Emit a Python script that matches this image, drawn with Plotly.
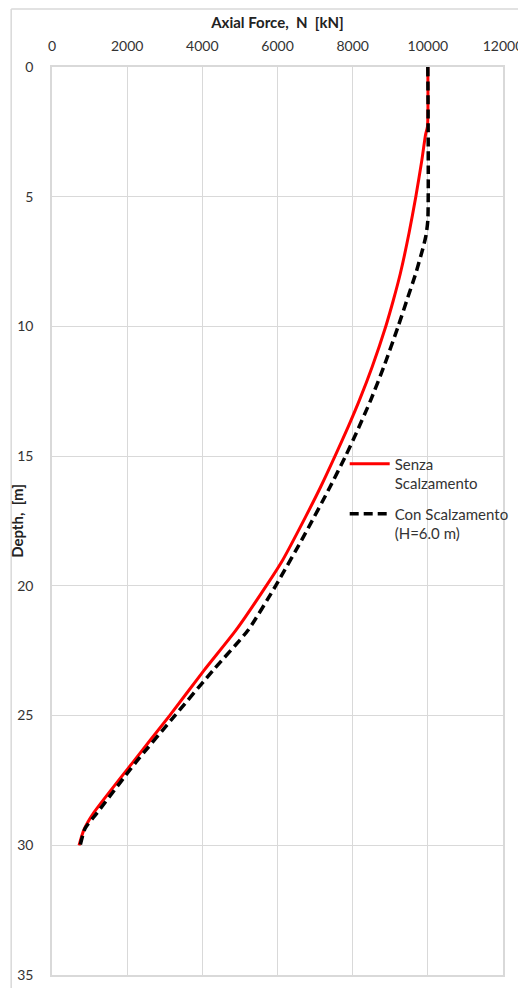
import plotly.graph_objects as go

# Senza Scalzamento (red solid)
depth_senza = [0, 2.3, 2.6, 3.6, 5, 6.4, 7.95, 9, 10, 11.55, 12.84, 13.87, 15, 16.18,
               17.33, 19, 20, 21.7, 23.25, 25, 26.84, 28.77, 29.4, 30]
N_senza = [10000, 9990, 9940, 9840, 9680, 9500, 9270, 9080, 8880, 8520, 8180, 7880, 7530, 7150,
           6750, 6140, 5700, 4900, 4050, 3130, 2130, 1100, 850, 720]

# Con Scalzamento (H=6.0 m) (black dashed)
depth_con = [0, 5.9, 6.5, 6.93, 7.95, 9, 10, 11.55, 12.84, 14.1, 15, 16.18, 17.98, 20, 21.7,
             23.25, 25, 26.84, 28.77, 29.35, 30]
N_con = [10000, 10000, 9950, 9880, 9680, 9440, 9210, 8830, 8480, 8100, 7810, 7400, 6740, 5950, 5220,
         4290, 3270, 2210, 1190, 880, 750]

x_ticks = [0, 2000, 4000, 6000, 8000, 10000, 12000]
x_ticktext = ["0", "2000", "4000", "6000", "8000", "10000", "12000"]
y_ticks = [0, 5, 10, 15, 20, 25, 30, 35]
y_ticktext = ["0", "5", "10", "15", "20", "25", "30", "35"]

FONT = "Lato"
GRID = "#d9d9d9"

fig = go.Figure()
fig.add_trace(go.Scatter(
    x=N_senza, y=depth_senza, mode="lines", name="Senza<br>Scalzamento", legendgroup="a",
    line=dict(color="#ff0000", width=3, shape="spline", smoothing=0.6)))
fig.add_trace(go.Scatter(
    x=N_con, y=depth_con, mode="lines", name="Con Scalzamento<br>(H=6.0 m)", legendgroup="b",
    line=dict(color="#000000", width=3.5, dash="9px,5px", shape="spline", smoothing=0.6)))

fig.update_layout(
    width=518, height=980,
    margin=dict(l=44, r=21, t=59, b=13),
    paper_bgcolor="white", plot_bgcolor="white",
    font=dict(family=FONT, size=14, color="#333333"),
    showlegend=True,
    legend=dict(x=0.649, y=0.581, xanchor="left", yanchor="top", valign="top",
                traceorder="grouped",
                bgcolor="rgba(0,0,0,0)", font=dict(family=FONT, size=15, color="#333333"),
                tracegroupgap=8, itemwidth=40),
    xaxis=dict(side="top", range=[0, 12000], tickvals=x_ticks, ticktext=x_ticktext,
               showgrid=True, gridcolor=GRID, gridwidth=1, automargin=False,
               showline=True, linecolor=GRID, linewidth=1.5, mirror=True,
               zeroline=False, ticks="", ticklabelstandoff=9,
               tickfont=dict(family=FONT, size=14, color="#333333"),
               title=dict(text="<b>Axial Force,  N  [kN]</b>", standoff=4,
                          font=dict(family=FONT, size=15, color="#222222"))),
    yaxis=dict(range=[35, 0], tickvals=y_ticks, ticktext=y_ticktext,
               showgrid=True, gridcolor=GRID, gridwidth=1, automargin=False,
               showline=True, linecolor=GRID, linewidth=1.5, mirror=True,
               zeroline=False, ticks="", ticklabelstandoff=14,
               tickfont=dict(family=FONT, size=14, color="#333333"),
               title=dict(text="<b>Depth,  [m]</b>", standoff=6,
                          font=dict(family=FONT, size=15, color="#222222"))),
    shapes=[
        dict(type="line", xref="paper", yref="paper", x0=-0.0905, x1=-0.0905,
             y0=1.064, y1=-0.02, line=dict(color=GRID, width=1.5)),
        dict(type="line", xref="paper", yref="paper", x0=-0.0905, x1=1.05,
             y0=1.064, y1=1.064, line=dict(color=GRID, width=1.5)),
    ],
)

fig.write_html("out.html")
